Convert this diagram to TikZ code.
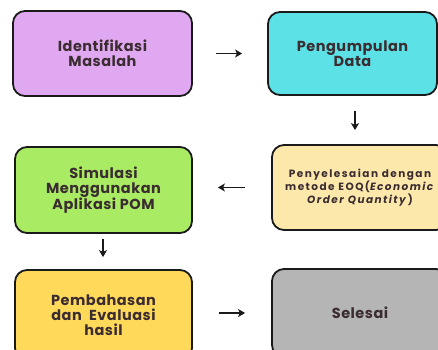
\documentclass[tikz,border=0pt]{standalone}
\usepackage{fontspec}
\setmainfont{Poppins}[LetterSpace=3.5]
\newfontfamily\eoqfont{Poppins}[LetterSpace=14]
\usetikzlibrary{arrows.meta}
\definecolor{cpurple}{HTML}{E0A8F0}
\definecolor{ccyan}{HTML}{5CE1E6}
\definecolor{cgreen}{HTML}{A9EC63}
\definecolor{ccream}{HTML}{FDE8AC}
\definecolor{cyellow}{HTML}{FFD95A}
\definecolor{cgrey}{HTML}{B5B5B5}
\definecolor{ctext}{HTML}{3A2C30}
\definecolor{cline}{HTML}{1A1A1A}
\tikzset{
  stepbox/.style={draw=cline, line width=1.8pt, rounded corners=12pt,
    align=center, text=ctext, font=\bfseries\fontsize{14.5}{15}\selectfont, inner sep=0pt},
  flow/.style={line width=1.8pt, draw=cline, -{Stealth[length=7pt,width=8pt,inset=1.8pt]}}
}
\begin{document}
\begin{tikzpicture}[x=1pt,y=-1pt]
\useasboundingbox (0,0) rectangle (438,349);
\clip (0,0) rectangle (438,349);
\fill[white] (0,0) rectangle (438,349);
\node[stepbox, fill=cpurple, minimum width=179pt, minimum height=85pt] (A) at (102.5,53.5) {Identifikasi\\Masalah};
\node[stepbox, fill=ccyan, minimum width=169pt, minimum height=83pt] (B) at (352.5,53.5) {Pengumpulan\\Data};
\node[stepbox, fill=cgreen, minimum width=177pt, minimum height=86pt] (C) at (103.5,190) {Simulasi\\Menggunakan\\Aplikasi POM};
\node[stepbox, fill=ccream, minimum width=176pt, minimum height=85pt, font=\eoqfont\bfseries\fontsize{10.5}{11.2}\selectfont] (D) at (360,187.5) {Penyelesaian dengan\\metode EOQ(\textit{Economic}\\\textit{Order Quantity})};
\node[stepbox, fill=cyellow, minimum width=177pt, minimum height=90pt] (E) at (103.5,315) {Pembahasan\\dan~ Evaluasi\\hasil};
\node[stepbox, fill=cgrey, minimum width=176pt, minimum height=88pt] (F) at (360,313) {Selesai};
\draw[flow, shorten <=23pt, shorten >=25pt] (A.east) -- (B.west);
\draw[flow, shorten <=15pt, shorten >=14pt] ([xshift=2.5pt]B.south) -- ([xshift=2.5pt]B.south |- D.north);
\draw[flow, shorten <=26pt, shorten >=25pt] (D.west) -- (D.west -| C.east);
\draw[flow, shorten <=5pt, shorten >=12pt] ([xshift=-0.5pt]C.south) -- ([xshift=-0.5pt]C.south |- E.north);
\draw[flow, shorten <=26pt, shorten >=26pt] (F.west -| E.east) -- (F.west);
\end{tikzpicture}
\end{document}
